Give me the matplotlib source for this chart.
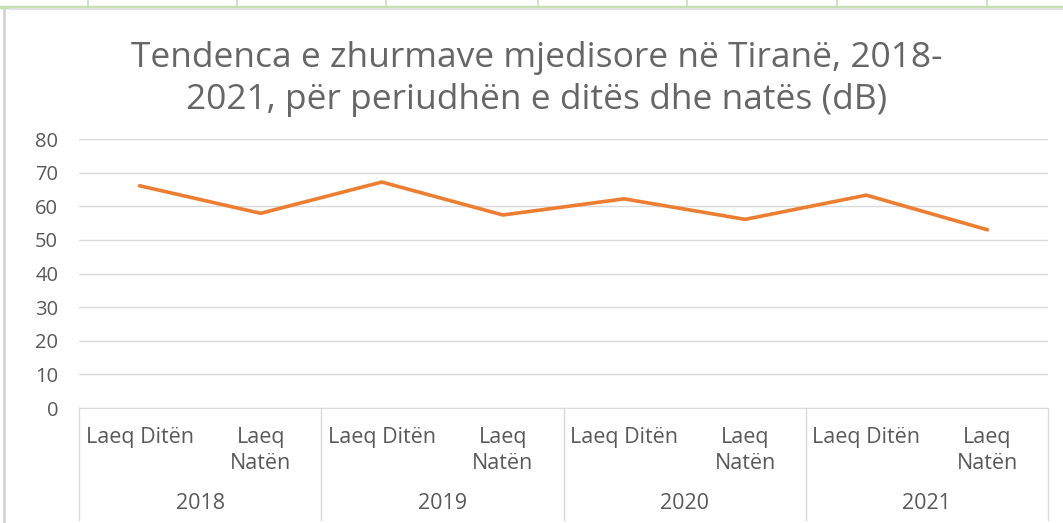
import matplotlib.pyplot as plt
from matplotlib.lines import Line2D

years = ['2018', '2019', '2020', '2021']
periods = ['Laeq Ditën', 'Laeq\nNatën']
values = [66.1, 57.9, 67.2, 57.4, 62.2, 56.1, 63.3, 53.0]

plt.rcParams['font.family'] = ['Open Sans', 'DejaVu Sans']
gray = '#595959'
grid = '#D9D9D9'

fig = plt.figure(figsize=(10.63, 5.23), dpi=100)
ax = fig.add_axes([79 / 1063, 115 / 523, 969 / 1063, 269 / 523])

labels = [p for y in years for p in periods]
x = list(range(len(labels)))
ax.plot(x, values, color='#ED7D31', linewidth=2.6, solid_capstyle='round')

ax.set_xlim(-0.5, len(labels) - 0.5)
ax.set_ylim(0, 80)
ax.set_yticks(range(0, 81, 10))
ax.yaxis.grid(True, color=grid, linewidth=1)
ax.set_axisbelow(True)
for s in ['left', 'right', 'top']:
    ax.spines[s].set_visible(False)
ax.spines['bottom'].set_color(grid)
ax.tick_params(axis='y', length=0, labelsize=14.5, labelcolor=gray, pad=15)
ax.tick_params(axis='x', length=0)
ax.set_xticks(x)
ax.set_xticklabels([])

# category labels (two levels)
tr = ax.get_xaxis_transform()
for i, lab in enumerate(labels):
    ax.text(i, -0.07, lab, transform=tr, ha='center', va='top', fontsize=15.5,
            color=gray, linespacing=1.3)
for g, yr in enumerate(years):
    ax.text(2 * g + 0.5, -0.355, yr, transform=tr, ha='center', va='center',
            fontsize=15.5, color=gray)
for b in range(len(years) + 1):
    ax.plot([2 * b - 0.5, 2 * b - 0.5], [0, -0.415], transform=tr, color=grid,
            linewidth=1, clip_on=False)

fig.suptitle('Tendenca e zhurmave mjedisore në Tiranë, 2018-\n2021, për periudhën e ditës dhe natës (dB)',
             x=537 / 1063, y=1 - 41 / 523, va='top', fontsize=25.5, color='#666666', linespacing=1.3)

# spreadsheet frame around the chart
fig.add_artist(Line2D([0, 1], [1 - 7 / 523] * 2, color='#C6E0B4', linewidth=2.5))
for xc in [88, 237, 386, 538, 687, 837, 987]:
    fig.add_artist(Line2D([xc / 1063] * 2, [1 - 6 / 523, 1], color='#C6E0B4', linewidth=1.2))
fig.add_artist(Line2D([0.01, 1], [1 - 9 / 523] * 2, color='#E0E0E0', linewidth=1.5))
fig.add_artist(Line2D([4 / 1063] * 2, [0, 1 - 9 / 523], color='#D4D4D4', linewidth=2))

fig.savefig('out.png', dpi=100)
